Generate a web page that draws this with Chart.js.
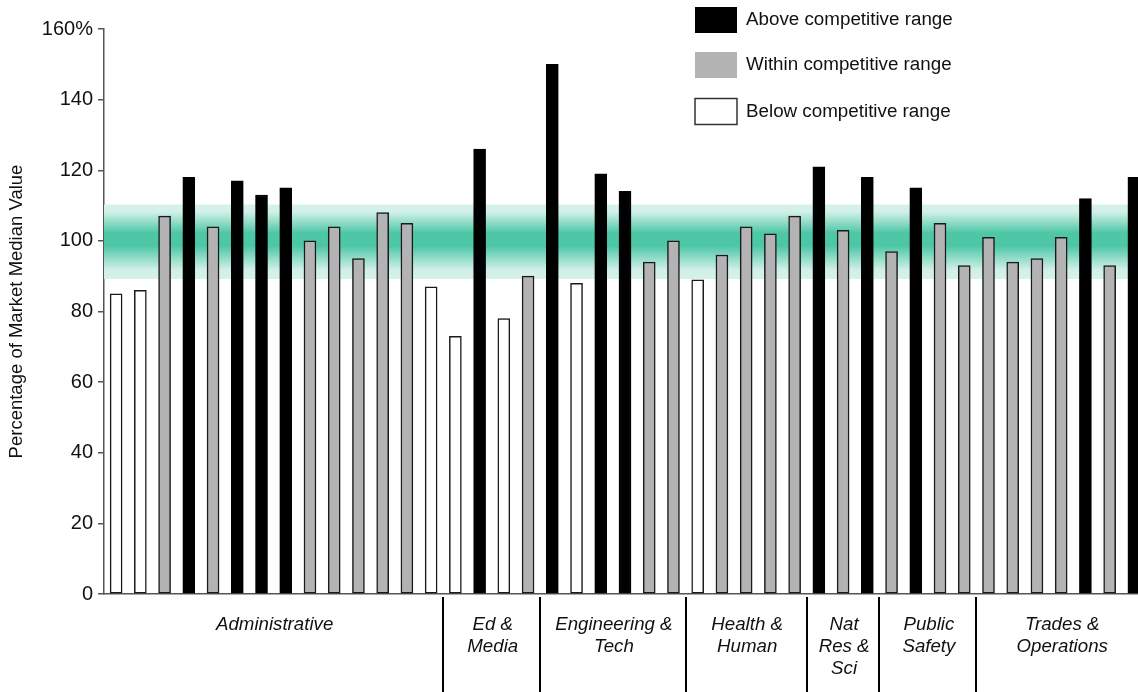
<!DOCTYPE html>
<html>
<head>
<meta charset="utf-8">
<script src="https://cdn.jsdelivr.net/npm/chart.js@4.4.0/dist/chart.umd.min.js"></script>
<style>
  html, body { margin: 0; padding: 0; background: #fff; overflow: hidden; }
  #wrap { position: relative; width: 1146px; height: 692px; }
</style>
</head>
<body>
<div id="wrap"><canvas id="c"></canvas></div>
<script>
// ---- Data ----
const values = [85, 86, 107, 118, 104, 117, 113, 115, 100, 104, 95, 108, 105, 87,
                73, 126, 78, 90,
                150, 88, 119, 114, 94, 100,
                89, 96, 104, 102, 107,
                121, 103, 118,
                97, 115, 105, 93,
                101, 94, 95, 101, 112, 93, 118];
// A = above, W = within, B = below competitive range
const status = ['B','B','W','A','W','A','A','A','W','W','W','W','W','B',
                'B','A','B','W',
                'A','B','A','A','W','W',
                'B','W','W','W','W',
                'A','W','A',
                'W','A','W','W',
                'W','W','W','W','A','W','A'];
const groupNames = [['Administrative'], ['Ed &', 'Media'], ['Engineering &', 'Tech'],
                    ['Health &', 'Human'], ['Nat', 'Res &', 'Sci'], ['Public', 'Safety'],
                    ['Trades &', 'Operations']];
const groupSizes = [14, 4, 6, 5, 3, 4, 7];
const yTicks = [0, 20, 40, 60, 80, 100, 120, 140, 160];
const bandRange = [89.2, 110.3];
const legendLabels = ['Above competitive range', 'Within competitive range', 'Below competitive range'];

const categories = values.map((v, i) => 'Job ' + (i + 1));
const pick = (code) => values.map((v, i) => status[i] === code ? v : null);

const FONT = '"Liberation Sans", Arial, sans-serif';

const bandPlugin = {
  id: 'band',
  beforeDatasetsDraw(chart) {
    const { ctx, chartArea, scales } = chart;
    const yTop = scales.y.getPixelForValue(bandRange[1]);
    const yBot = scales.y.getPixelForValue(bandRange[0]);
    const g = ctx.createLinearGradient(0, yTop, 0, yBot);
    g.addColorStop(0, '#d6f2ea');
    g.addColorStop(0.1, '#d2f0e7');
    g.addColorStop(0.38, '#4fc7a7');
    g.addColorStop(0.55, '#4cc6a6');
    g.addColorStop(0.88, '#d2f0e7');
    g.addColorStop(1, '#d6f2ea');
    ctx.save();
    ctx.fillStyle = g;
    ctx.fillRect(chartArea.left, yTop, chartArea.right - chartArea.left, yBot - yTop);
    ctx.restore();
  }
};

const groupPlugin = {
  id: 'groups',
  afterDraw(chart) {
    const { ctx, scales } = chart;
    const x = scales.x;
    ctx.save();
    ctx.fillStyle = '#111';
    ctx.font = 'italic 18.7px ' + FONT;
    ctx.textAlign = 'center';
    ctx.textBaseline = 'middle';
    let start = 0;
    groupSizes.forEach((n, gi) => {
      const first = x.getPixelForValue(start);
      const last = x.getPixelForValue(start + n - 1);
      const cx = (first + last) / 2 + 1;
      groupNames[gi].forEach((line, li) => {
        ctx.fillText(line, cx, 625 + li * 22);
      });
      if (gi > 0) {
        const prev = x.getPixelForValue(start - 1);
        const bx = Math.round((prev + first) / 2);
        ctx.strokeStyle = '#000';
        ctx.lineWidth = 2;
        ctx.beginPath();
        ctx.moveTo(bx, 597);
        ctx.lineTo(bx, 692);
        ctx.stroke();
      }
      start += n;
    });
    ctx.restore();
  }
};

const legendPlugin = {
  id: 'customLegend',
  afterDraw(chart) {
    const { ctx } = chart;
    const fills = ['#000000', '#b3b3b3', '#ffffff'];
    const rowsY = [20, 65, 111.5];
    ctx.save();
    ctx.font = '18.8px ' + FONT;
    ctx.textBaseline = 'middle';
    ctx.textAlign = 'left';
    rowsY.forEach((cy, i) => {
      ctx.fillStyle = fills[i];
      ctx.fillRect(695, cy - 13, 42, 26);
      if (i === 2) {
        ctx.strokeStyle = '#333';
        ctx.lineWidth = 1.5;
        ctx.strokeRect(695, cy - 13, 42, 26);
      }
      ctx.fillStyle = '#111';
      ctx.fillText(legendLabels[i], 746, cy);
    });
    ctx.restore();
  }
};

const common = { grouped: false, barThickness: 12, borderWidth: 1.5, borderSkipped: false };

new Chart(document.getElementById('c'), {
  type: 'bar',
  data: {
    labels: categories,
    datasets: [
      Object.assign({ label: legendLabels[0], data: pick('A'), backgroundColor: '#000', borderColor: '#000' }, common),
      Object.assign({ label: legendLabels[1], data: pick('W'), backgroundColor: '#b3b3b3', borderColor: '#1a1a1a' }, common),
      Object.assign({ label: legendLabels[2], data: pick('B'), backgroundColor: '#fff', borderColor: '#1a1a1a' }, common)
    ]
  },
  options: {
    responsive: true,
    maintainAspectRatio: false,
    animation: false,
    layout: { padding: { top: 29, left: 0, right: 0, bottom: 0 } },
    plugins: { legend: { display: false }, tooltip: { enabled: false } },
    scales: {
      x: {
        offset: true,
        grid: { display: false },
        border: { display: true, color: '#555', width: 1.5 },
        ticks: { display: false },
        afterFit(s) { s.height = 98; }
      },
      y: {
        min: 0, max: 160,
        afterBuildTicks(s) { s.ticks = yTicks.map(v => ({ value: v })); },
        ticks: {
          color: '#111',
          font: { family: FONT, size: 20 },
          padding: 5,
          callback: (v) => v === 160 ? '160%' : String(v)
        },
        grid: { display: true, drawOnChartArea: false, tickLength: 6, color: '#555', lineWidth: 1.5 },
        border: { display: true, color: '#555', width: 1.5 },
        title: {
          display: true,
          text: 'Percentage of Market Median Value',
          color: '#111',
          font: { family: FONT, size: 18.5 },
          padding: { top: 6, bottom: 0 }
        },
        afterFit(s) { s.width = 104; }
      }
    }
  },
  plugins: [bandPlugin, groupPlugin, legendPlugin]
});
</script>
</body>
</html>
